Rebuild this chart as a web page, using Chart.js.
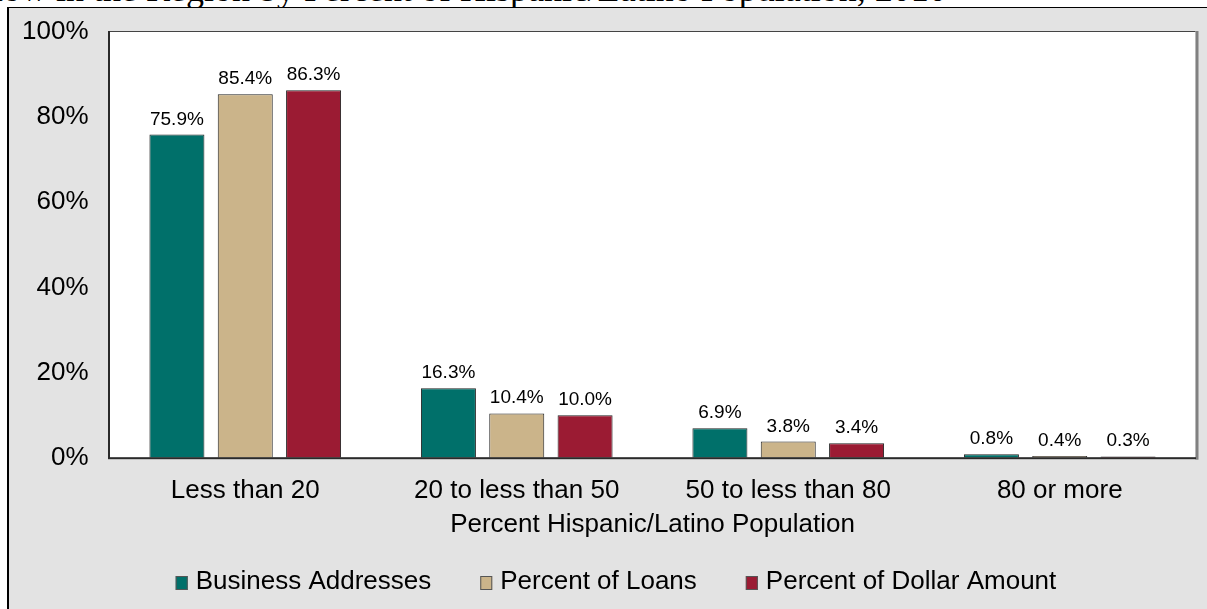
<!DOCTYPE html>
<html><head><meta charset="utf-8">
<script src="https://cdn.jsdelivr.net/npm/chart.js@4.4.1/dist/chart.umd.min.js"></script>
<style>
html,body{margin:0;padding:0;background:#fff;width:1207px;height:609px;overflow:hidden;}
#title{position:absolute;left:-110px;top:-29px;font:36px/36px "Liberation Serif","Times New Roman",serif;white-space:nowrap;color:#000;}
#frame{position:absolute;left:7px;top:7px;width:1200px;height:602px;box-sizing:border-box;border-top:1px solid #000;border-left:2px solid #000;background:#e3e3e3;}
#wrap{position:absolute;left:0;top:0;width:1198px;height:601px;}
</style></head><body>
<div id="title">Loan Flow in the Region by Percent of Hispanic/Latino Population, 2010</div>
<div id="frame"><div id="wrap"><canvas id="c"></canvas></div></div>
<script>
const categories = ['Less than 20', '20 to less than 50', '50 to less than 80', '80 or more'];
const seriesNames = ['Business Addresses', 'Percent of Loans', 'Percent of Dollar Amount'];
const businessAddresses = [75.9, 16.3, 6.9, 0.8];
const percentOfLoans = [85.4, 10.4, 3.8, 0.4];
const percentOfDollarAmount = [86.3, 10.0, 3.4, 0.3];
const yTicks = [0, 20, 40, 60, 80, 100];
const xAxisTitle = 'Percent Hispanic/Latino Population';
const seriesColors = ['#00706a', '#cbb48a', '#9b1b33'];

const FONT = '"Liberation Sans", Arial, sans-serif';

const plotFrame = {
  id: 'plotFrame',
  beforeDatasetsDraw(chart) {
    const {ctx, chartArea: a} = chart;
    ctx.save();
    ctx.fillStyle = '#ffffff';
    ctx.fillRect(a.left, a.top, a.right - a.left, a.bottom - a.top);
    ctx.restore();
  },
  afterDatasetsDraw(chart) {
    const {ctx, chartArea: a} = chart;
    ctx.save();
    ctx.fillStyle = '#444';
    ctx.fillRect(a.left, a.top - 1, a.right - a.left, 1);
    ctx.fillStyle = '#808080';
    ctx.fillRect(a.right, a.top - 1, 3, a.bottom - a.top + 3);
    ctx.fillStyle = '#2a2a2a';
    ctx.fillRect(a.left - 1.5, a.top - 1, 2, a.bottom - a.top + 2);
    ctx.fillRect(a.left - 1.5, a.bottom - 0.5, a.right - a.left + 2, 2);
    ctx.restore();
  }
};

const valueLabels = {
  id: 'valueLabels',
  afterDatasetsDraw(chart) {
    const {ctx} = chart;
    ctx.save();
    ctx.font = '19px ' + FONT;
    ctx.fillStyle = '#000';
    ctx.textAlign = 'center';
    ctx.textBaseline = 'alphabetic';
    chart.data.datasets.forEach((ds, i) => {
      const meta = chart.getDatasetMeta(i);
      meta.data.forEach((bar, j) => {
        ctx.fillText(ds.data[j].toFixed(1) + '%', bar.x, bar.y - 10);
      });
    });
    ctx.restore();
  }
};

const customLegend = {
  id: 'customLegend',
  afterDraw(chart) {
    const {ctx} = chart;
    ctx.save();
    ctx.font = '26px ' + FONT;
    ctx.textBaseline = 'middle';
    ctx.textAlign = 'left';
    const boxW = 12, boxH = 14, gapBox = 8, gapItem = 49;
    const items = chart.data.datasets.map(ds => ({label: ds.label, color: ds.backgroundColor, w: ctx.measureText(ds.label).width}));
    let total = 0;
    items.forEach((it, k) => { total += boxW + gapBox + it.w + (k < items.length - 1 ? gapItem : 0); });
    let x = 607 - total / 2;
    const cy = 574;
    items.forEach(it => {
      ctx.fillStyle = it.color;
      ctx.fillRect(x, cy - boxH / 2 + 1, boxW, boxH);
      ctx.strokeStyle = '#555';
      ctx.lineWidth = 1;
      ctx.strokeRect(x + 0.5, cy - boxH / 2 + 1.5, boxW - 1, boxH - 1);
      ctx.fillStyle = '#000';
      ctx.fillText(it.label, x + boxW + gapBox, cy);
      x += boxW + gapBox + it.w + gapItem;
    });
    ctx.restore();
  }
};

const seriesData = [businessAddresses, percentOfLoans, percentOfDollarAmount];

new Chart(document.getElementById('c'), {
  type: 'bar',
  data: {
    labels: categories,
    datasets: seriesNames.map((name, i) => ({
      label: name,
      data: seriesData[i],
      backgroundColor: seriesColors[i],
      borderColor: '#222',
      borderWidth: 1,
      categoryPercentage: 0.755,
      barPercentage: 0.805
    }))
  },
  options: {
    responsive: true,
    maintainAspectRatio: false,
    animation: false,
    devicePixelRatio: 1,
    layout: {padding: {left: 0, top: 24, right: 11.5, bottom: 0}},
    plugins: {legend: {display: false}, tooltip: {enabled: false}},
    scales: {
      x: {
        grid: {display: false, drawTicks: false},
        border: {display: false},
        ticks: {font: {family: FONT, size: 26}, color: '#000', padding: 18, maxRotation: 0},
        title: {display: true, text: xAxisTitle, font: {family: FONT, size: 26}, color: '#000', padding: {top: 0, bottom: 69}},
        afterFit(s) { s.height = 151.3; s.paddingLeft = 0; s.paddingRight = 0; }
      },
      y: {
        min: 0, max: 100,
        grid: {display: false, drawTicks: false},
        border: {display: false},
        ticks: {font: {family: FONT, size: 26}, color: '#000', padding: 21, callback: v => v + '%'},
        afterBuildTicks(s) { s.ticks = yTicks.map(v => ({value: v})); },
        afterFit(s) { s.width = 100.5; s.paddingTop = 0; s.paddingBottom = 0; }
      }
    }
  },
  plugins: [plotFrame, valueLabels, customLegend]
});
</script>
</body></html>
